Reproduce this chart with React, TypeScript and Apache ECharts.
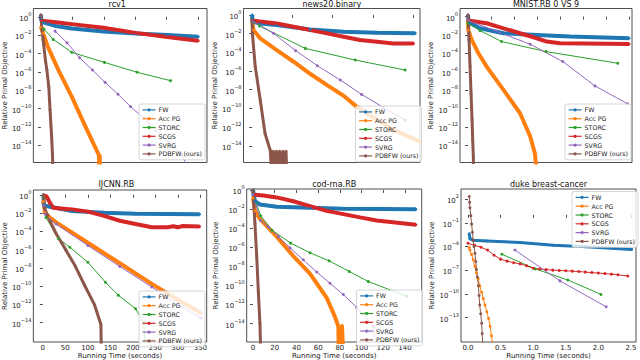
import React, { useEffect, useRef } from 'react';
import * as echarts from 'echarts';

// ---------- labels ----------
const ALGOS = ['FW', 'Acc PG', 'STORC', 'SCGS', 'SVRG', 'PDBFW (ours)'];
const TITLES = ['rcv1', 'news20.binary', 'MNIST.RB 0 VS 9', 'IJCNN.RB', 'cod-rna.RB', 'duke breast-cancer'];
const X_NAME = 'Running Time (seconds)';
const Y_NAME = 'Relative Primal Objective';

// ---------- tick values (y in log10 units) ----------
const X_TICKS = [
  [0, 100, 200, 300, 400, 500],
  [0, 100, 200, 300, 400],
  [0, 10, 20, 30, 40, 50, 60, 70],
  [0, 50, 100, 150, 200, 250, 300, 350],
  [0, 20, 40, 60, 80, 100, 120, 140],
  [0, 0.5, 1, 1.5, 2, 2.5],
];
const Y_TICKS_EVEN = [0, -2, -4, -6, -8, -10, -12, -14];
const Y_TICKS_DUKE = [2, -1, -4, -7, -10, -13];

// ---------- data: [time, log10(relative primal objective)] ----------
// rcv1
const rcv1FW = [[0, 0.18], [1, -0.3], [5, -0.55], [15, -0.68], [27, -0.8], [48, -1.0], [98, -1.27], [199, -1.6], [301, -1.81], [402, -1.99], [500, -2.17]];
const rcv1AccPG = [[0, -1.08], [7, -1.8], [22, -3.26], [58, -5.97], [98, -8.68], [139, -11.76], [184, -15.01], [186, -17], [187, -15.1], [189, -17]];
const rcv1STORC = [[10, -1.34], [39, -2.46], [98, -3.87], [202, -4.96], [306, -6.04], [412, -6.95]];
const rcv1SCGS = [[2, -0.43], [48, -0.6], [98, -0.8], [199, -1.2], [301, -1.75], [402, -2.2], [500, -2.6]];
const rcv1SVRG = [[45, -1.56], [83, -2.82], [123, -4.45], [164, -5.79], [204, -7.13], [245, -8.43], [285, -9.77], [326, -11.0], [366, -12.37], [407, -13.67], [447, -15.0], [470, -16.5]];
const rcv1PDBFW = [[0, 0.2], [2, -0.9], [7, -2.53], [15, -4.88], [19, -5.8], [25, -7.6], [29, -10.1], [34, -13.0], [37, -15.2], [38, -17]];

// news20.binary
const newsFW = [[0, 0], [0.5, -0.6], [3, -0.71], [20, -0.9], [61, -1.07], [144, -1.54], [227, -1.79], [310, -1.89], [405, -1.96]];
const newsAccPG = [[0, -0.6], [3, -1.6], [20, -2.5], [61, -3.75], [103, -5.0], [144, -6.29], [186, -7.5], [227, -8.64], [258, -9.75], [310, -11.2], [351, -12.3], [420, -13.6]];
const newsSTORC = [[0, -0.6], [18, -1.18], [132, -3.57], [256, -4.82], [380, -5.89]];
const newsSCGS = [[0, -0.6], [20, -0.7], [61, -0.9], [103, -1.25], [186, -1.96], [227, -2.32], [268, -2.68], [310, -2.86], [351, -3.04], [401, -3.04]];
const newsSVRG = [[0, -0.6], [53, -1.96], [108, -3.82], [162, -5.43], [219, -6.96], [272, -8.5], [326, -9.89], [380, -11.25]];
const newsPDBFW = [[0, -0.5], [0.5, -1.96], [7.5, -5.5], [20, -9.1], [32, -12.7], [45, -14.5], [48, -17], [52, -14.6], [56, -17], [60, -14.6], [64, -17], [68, -14.6], [72, -17], [76, -14.6], [80, -17], [84, -14.6], [86, -17]];

// MNIST.RB 0 VS 9
const mnistFW = [[0, 0.18], [0.2, -0.5], [1, -0.72], [5.2, -1.27], [15.4, -1.81], [29.9, -1.99], [44.3, -2.17], [70, -2.35]];
const mnistAccPG = [[0, -0.43], [0.1, -1.45], [1.6, -2.53], [4.5, -3.98], [8.1, -5.43], [15.4, -7.96], [22.6, -10.5], [27, -13.0], [29.1, -14.9], [29.9, -17]];
const mnistSTORC = [[0, -0.72], [5.2, -1.52], [14.6, -2.71], [33.9, -3.8], [65.1, -5.07]];
const mnistSCGS = [[0, -0.43], [8.1, -0.72], [15.4, -1.27], [22.6, -1.81], [29.9, -2.35], [34.2, -2.71], [40, -2.89], [70, -2.97]];
const mnistSVRG = [[0, -0.4], [27, -3.0], [41.2, -4.88], [55.2, -7.53], [69.4, -9.48]];
const mnistPDBFW = [[0, 0.18], [0.43, -2.53], [0.87, -5.43], [1.3, -8.32], [1.74, -11.2], [2.03, -13.4], [2.3, -15.2], [2.4, -17]];

// IJCNN.RB
const ijcnnFW = [[1.5, 0], [2, -1.06], [5, -1.2], [15.6, -1.31], [65, -1.77], [136, -1.95], [206, -2.06], [348, -2.13]];
const ijcnnAccPG = [[1.5, -0.71], [4.9, -1.95], [15.6, -2.48], [29.7, -3.01], [100, -5.25], [171, -7.5], [242, -9.75], [300, -11.5], [351, -12.94]];
const ijcnnSTORC = [[1.5, -0.2], [7, -2.48], [34.6, -4.79], [60, -5.74], [100, -7.38], [139, -9.57], [167.6, -10.99], [206, -12.48], [224, -14.0], [228, -17]];
const ijcnnSCGS = [[1.5, -0.07], [8.5, -0.18], [15, -0.8], [22.6, -1.42], [65, -1.6], [100, -1.84], [136, -2.3], [171, -2.84], [206, -3.19], [242, -3.55], [277, -3.55], [290, -3.45], [300, -3.55], [310, -3.42], [348, -3.48]];
const ijcnnSVRG = [[1.5, -1.2], [4.9, -2.1], [15.6, -2.7], [29.7, -3.19], [100, -5.55], [171, -7.85], [242, -10.1], [300, -12.0], [351, -13.5]];
const ijcnnPDBFW = [[1.5, 0], [3.5, -1.42], [15.6, -2.84], [29.7, -4.26], [51, -6.03], [72, -7.8], [93, -9.93], [115, -12.06], [129, -14.2], [130, -17]];

// cod-rna.RB
const codFW = [[0, 0], [1.8, -1.18], [6.4, -1.52], [21.8, -1.75], [52.5, -1.86], [83.2, -1.96], [150, -2.02]];
const codAccPG = [[0, -0.85], [1.8, -2.19], [6.4, -3.04], [21.8, -4.89], [37.1, -6.92], [52.5, -8.77], [67.9, -11.3], [75.5, -13.3], [78.6, -14.3], [79, -17], [80, -14.5], [81, -17], [82, -14.2], [83, -17]];
const codSTORC = [[0, -0.51], [7.1, -2.7], [17.5, -4.22], [34.7, -5.57], [52.5, -6.58], [70, -7.42], [88.7, -8.54], [106.2, -9.6], [141.5, -11.13]];
const codSCGS = [[1.8, -0.51], [9.5, -0.58], [21.8, -0.78], [37.1, -1.18], [52.5, -1.69], [67.9, -2.19], [83.2, -2.53], [98.6, -2.87], [113.9, -3.2], [150, -3.64]];
const codSVRG = [[0, -0.51], [7.1, -3.2], [14.1, -3.88], [23.3, -4.89], [34.1, -6.07], [46.3, -7.32], [58.7, -8.6], [70.9, -9.78], [83.2, -10.96], [95.5, -12.3], [110.8, -14.3], [113.9, -17]];
const codPDBFW = [[0, 0], [1.8, -3.54], [3.4, -6.92], [4.9, -10.63], [6.4, -14.0], [7.1, -17]];

// duke breast-cancer
const dukeFW = [[0.02, -2.4], [0.03, -3.01], [0.08, -3.22], [0.29, -3.3], [0.8, -3.5], [1.31, -3.84], [1.82, -4.03], [2.51, -4.37]];
const dukeAccPG = [[0.02, -4.12], [0.03, -4.45], [0.055, -5.0], [0.08, -5.68], [0.105, -6.5], [0.13, -7.32], [0.155, -8.1], [0.18, -8.96], [0.21, -9.8], [0.235, -10.6], [0.26, -11.4], [0.29, -12.25], [0.315, -13.1], [0.34, -14.1], [0.36, -15.3], [0.38, -16.5]];
const dukeSTORC = [[0.52, -4.98], [1.03, -6.83], [1.53, -8.23], [2.04, -10.07]];
const dukeSCGS = [[0, -3.6], [0.1, -3.85], [0.2, -4.1], [0.3, -4.45], [0.4, -5.1], [0.5, -5.6], [0.6, -5.85], [0.7, -6.05], [0.8, -6.2], [0.9, -6.45], [1.0, -6.75], [1.1, -6.85], [1.2, -6.92], [1.3, -6.99], [1.4, -7.03], [1.5, -7.07], [1.6, -7.12], [1.7, -7.17], [1.8, -7.24], [1.9, -7.3], [2.0, -7.36], [2.1, -7.43], [2.2, -7.5], [2.3, -7.58], [2.45, -7.73]];
const dukeSVRG = [[0.72, -4.45], [1.41, -8.35], [2.12, -11.63]];
const dukePDBFW = [[0.02, 2.32], [0.025, 1.6], [0.03, 0.89], [0.043, -0.1], [0.056, -1.17], [0.068, -2.2], [0.08, -3.22], [0.093, -4.0], [0.107, -4.86], [0.12, -5.9], [0.13, -6.91], [0.145, -7.9], [0.16, -8.96], [0.17, -10.2], [0.18, -11.4], [0.195, -12.5], [0.21, -13.7], [0.218, -15], [0.225, -16.3]];

const PANEL_DATA = [
  [rcv1FW, rcv1AccPG, rcv1STORC, rcv1SCGS, rcv1SVRG, rcv1PDBFW],
  [newsFW, newsAccPG, newsSTORC, newsSCGS, newsSVRG, newsPDBFW],
  [mnistFW, mnistAccPG, mnistSTORC, mnistSCGS, mnistSVRG, mnistPDBFW],
  [ijcnnFW, ijcnnAccPG, ijcnnSTORC, ijcnnSCGS, ijcnnSVRG, ijcnnPDBFW],
  [codFW, codAccPG, codSTORC, codSCGS, codSVRG, codPDBFW],
  [dukeFW, dukeAccPG, dukeSTORC, dukeSCGS, dukeSVRG, dukePDBFW],
];

// ---------- layout & style ----------
const COLORS = ['#1f77b4', '#ff7f0e', '#2ca02c', '#d62728', '#9467bd', '#8c564b'];
const FONT = 'DejaVu Sans';
const GRIDS = [
  { left: 27.5, top: 8.5, width: 179.5, height: 154 },
  { left: 243.5, top: 8.5, width: 176.5, height: 154 },
  { left: 460, top: 8.5, width: 172, height: 154 },
  { left: 26, top: 190, width: 180.7, height: 157 },
  { left: 246.7, top: 189, width: 175, height: 158 },
  { left: 461, top: 189, width: 175, height: 157 },
];
const X_RANGE = [[-24, 528], [-21.6, 417], [-3.5, 71.3], [-21, 364], [-5.8, 155.4], [-0.107, 2.577]];
const Y_RANGE = [[-15.85, 0.9], [-15.79, 0.7], [-15.85, 0.88], [-16.12, 0.53], [-15.93, 0.1], [-16.08, 3.27]];
const Y_NAME_GAP = [21, 24, 25, 20, 27, 23];
const LEGEND_POS = [
  { left: 139, top: 104 },
  { left: 355.5, top: 106 },
  { left: 565, top: 104 },
  { left: 139, top: 291 },
  { left: 356.5, top: 290 },
  { left: 572, top: 191.5 },
];
const WIDTHS_DENSE = [4, 4, 1, 4, 1, 3];
const WIDTHS_DUKE = [3, 1, 1, 1, 1, 1];

function yLabel(v: number) {
  const s = v < 0 ? '\u2212' + Math.abs(v) : String(v);
  return '{b|10}{s|' + s + '}';
}

function buildOption() {
  const grid = GRIDS.map((g) => ({ ...g, show: true, borderColor: '#222', borderWidth: 0.8, backgroundColor: 'transparent' }));
  const xAxis = GRIDS.map((_, i) => ({
    type: 'value',
    gridIndex: i,
    min: X_RANGE[i][0],
    max: X_RANGE[i][1],
    axisLine: { show: false },
    splitLine: { show: false },
    axisTick: { show: true, length: 3, customValues: X_TICKS[i], lineStyle: { color: '#222', width: 0.8 } },
    axisLabel: {
      show: i >= 3,
      customValues: X_TICKS[i],
      fontSize: 7,
      margin: 2,
      color: '#222',
      fontFamily: FONT,
      formatter: (v: number) => (i === 5 ? v.toFixed(1) : String(v)),
    },
    name: i >= 3 ? X_NAME : '',
    nameLocation: 'middle',
    nameGap: 10,
    nameTextStyle: { fontSize: 7, color: '#222', fontFamily: FONT },
  }));
  const yAxis = GRIDS.map((_, i) => ({
    type: 'value',
    gridIndex: i,
    min: Y_RANGE[i][0],
    max: Y_RANGE[i][1],
    axisLine: { show: false },
    splitLine: { show: false },
    axisTick: { show: true, length: 3, customValues: i === 5 ? Y_TICKS_DUKE : Y_TICKS_EVEN, lineStyle: { color: '#222', width: 0.8 } },
    axisLabel: {
      customValues: i === 5 ? Y_TICKS_DUKE : Y_TICKS_EVEN,
      margin: 2,
      color: '#222',
      fontFamily: FONT,
      formatter: yLabel,
      rich: {
        b: { fontSize: 7, lineHeight: 11, verticalAlign: 'bottom', fontFamily: FONT, color: '#222' },
        s: { fontSize: 5, lineHeight: 6, verticalAlign: 'top', fontFamily: FONT, color: '#222' },
      },
    },
    name: Y_NAME,
    nameLocation: 'middle',
    nameGap: Y_NAME_GAP[i],
    nameTextStyle: { fontSize: 7, color: '#222', fontFamily: FONT },
  }));
  const title = TITLES.map((t, i) => ({
    text: t,
    left: GRIDS[i].left + GRIDS[i].width / 2,
    top: i < 3 ? 0 : 180,
    textAlign: 'center',
    padding: 0,
    textStyle: { fontSize: 8, lineHeight: 9, fontWeight: 'normal', color: '#111', fontFamily: FONT },
  }));
  const legend = LEGEND_POS.map((p) => ({
    ...p,
    orient: 'vertical',
    data: ALGOS,
    selectedMode: false,
    itemWidth: 13,
    itemHeight: 4,
    itemGap: 1,
    padding: [2, 3, 2, 3],
    backgroundColor: 'rgba(255,255,255,0.8)',
    borderColor: '#cccccc',
    borderWidth: 0.8,
    borderRadius: 2,
    lineStyle: { width: 1.2 },
    textStyle: { fontSize: 6.3, lineHeight: 7.8, color: '#222', fontFamily: FONT, padding: [0, 0, 0, -2] },
  }));
  const series: any[] = [];
  PANEL_DATA.forEach((panel, i) => {
    panel.forEach((data, a) => {
      const w = i === 5 ? WIDTHS_DUKE[a] : WIDTHS_DENSE[a];
      series.push({
        type: 'line',
        name: ALGOS[a],
        xAxisIndex: i,
        yAxisIndex: i,
        data,
        color: COLORS[a],
        symbol: 'circle',
        symbolSize: 3,
        showSymbol: true,
        lineStyle: { width: w, color: COLORS[a] },
        itemStyle: { color: COLORS[a] },
        clip: true,
        silent: true,
      });
    });
  });
  return { animation: false, textStyle: { fontFamily: FONT }, grid, xAxis, yAxis, title, legend, series };
}

export default function App() {
  const ref = useRef<HTMLDivElement>(null);
  useEffect(() => {
    if (!ref.current) return;
    const chart = echarts.init(ref.current, undefined, { renderer: 'svg' });
    chart.setOption(buildOption() as any);
    return () => chart.dispose();
  }, []);
  return <div ref={ref} style={{ position: 'fixed', left: 0, top: 0, width: 640, height: 360, background: '#fff' }} />;
}
